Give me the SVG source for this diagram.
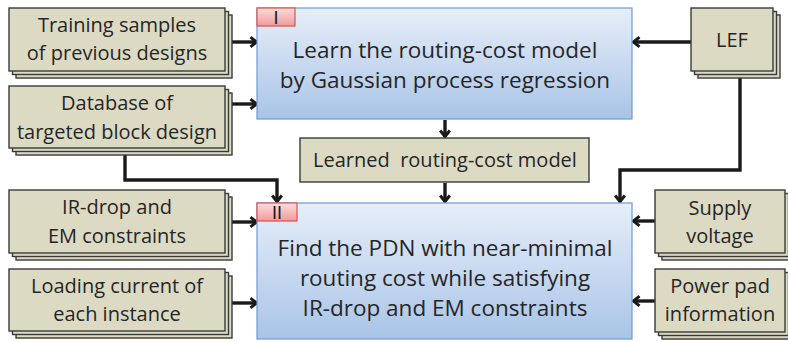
<svg xmlns="http://www.w3.org/2000/svg" width="788" height="342" viewBox="0 0 788 342">
  <style>
    .card { fill: #dddac4; stroke: #3a3a3a; stroke-width: 1.4; }
    .step { fill: url(#blueFill); stroke: #6b9bd6; stroke-width: 1.2; }
    .tab { fill: url(#redFill); stroke: #d9534f; stroke-width: 1.2; }
    .txt { font-family: "Open Sans", "Liberation Sans", sans-serif; font-size: 20px; fill: #262626; text-anchor: middle; }
    .big { font-size: 22.5px; }
    .num { font-family: "Liberation Sans", sans-serif; font-size: 18px; fill: #1a1a1a; text-anchor: middle; }
    .wire { fill: none; stroke: #1a1a1a; stroke-width: 3.4; stroke-linejoin: miter; marker-end: url(#head); }
  </style>
  <defs>
    <linearGradient id="blueFill" x1="0" y1="0" x2="0" y2="1">
      <stop offset="0" stop-color="#e7eef9"/>
      <stop offset="1" stop-color="#a9c4e7"/>
    </linearGradient>
    <linearGradient id="redFill" x1="0" y1="0" x2="0" y2="1">
      <stop offset="0" stop-color="#fbdcdc"/>
      <stop offset="1" stop-color="#f29a9a"/>
    </linearGradient>
    <marker id="head" viewBox="0 0 12 12" refX="9.5" refY="6" markerWidth="12" markerHeight="12" markerUnits="userSpaceOnUse" orient="auto">
      <path d="M3,1.2 L9,6 L3,10.8" fill="none" stroke="#1a1a1a" stroke-width="3"/>
    </marker>
  </defs>

  <!-- connectors -->
  <g id="connectors">
    <path class="wire" d="M232,42 H257"/>
    <path class="wire" d="M232,104 H257"/>
    <path class="wire" d="M691,42 H633"/>
    <path class="wire" d="M445,120 V137"/>
    <path class="wire" d="M445,183 V202"/>
    <path class="wire" d="M125,155 V180 H277 V202"/>
    <path class="wire" d="M740,78 V170 H620 V202"/>
    <path class="wire" d="M232,222 H257"/>
    <path class="wire" d="M232,303 H257"/>
    <path class="wire" d="M655,221 H633"/>
    <path class="wire" d="M655,301 H633"/>
  </g>

  <!-- inputs on the left -->
  <g id="training-samples">
    <rect class="card" x="16" y="15" width="216" height="63"/>
    <rect class="card" x="12.5" y="11.5" width="216" height="63"/>
    <rect class="card" x="9" y="8" width="216" height="63"/>
    <text class="txt" x="117" y="32">Training samples</text>
    <text class="txt" x="117" y="60">of previous designs</text>
  </g>
  <g id="database">
    <rect class="card" x="16" y="93" width="216" height="62"/>
    <rect class="card" x="12.5" y="89.5" width="216" height="62"/>
    <rect class="card" x="9" y="86" width="216" height="62"/>
    <text class="txt" x="117" y="110">Database of</text>
    <text class="txt" x="117" y="139">targeted block design</text>
  </g>
  <g id="ir-drop">
    <rect class="card" x="16" y="197" width="216" height="63"/>
    <rect class="card" x="12.5" y="193.5" width="216" height="63"/>
    <rect class="card" x="9" y="190" width="216" height="63"/>
    <text class="txt" x="117" y="214">IR-drop and</text>
    <text class="txt" x="117" y="243">EM constraints</text>
  </g>
  <g id="loading-current">
    <rect class="card" x="16" y="276" width="216" height="62"/>
    <rect class="card" x="12.5" y="272.5" width="216" height="62"/>
    <rect class="card" x="9" y="269" width="216" height="62"/>
    <text class="txt" x="117" y="293">Loading current of</text>
    <text class="txt" x="117" y="321">each instance</text>
  </g>

  <!-- inputs on the right -->
  <g id="lef">
    <rect class="card" x="698" y="15" width="82" height="63"/>
    <rect class="card" x="694.5" y="11.5" width="82" height="63"/>
    <rect class="card" x="691" y="8" width="82" height="63"/>
    <text class="txt" x="732" y="47">LEF</text>
  </g>
  <g id="supply-voltage">
    <rect class="card" x="662" y="197" width="130" height="63"/>
    <rect class="card" x="658.5" y="193.5" width="130" height="63"/>
    <rect class="card" x="655" y="190" width="130" height="63"/>
    <text class="txt" x="720" y="215">Supply</text>
    <text class="txt" x="720" y="243">voltage</text>
  </g>
  <g id="power-pad">
    <rect class="card" x="662" y="276" width="130" height="63"/>
    <rect class="card" x="658.5" y="272.5" width="130" height="63"/>
    <rect class="card" x="655" y="269" width="130" height="63"/>
    <text class="txt" x="720" y="293">Power pad</text>
    <text class="txt" x="720" y="321">information</text>
  </g>

  <!-- stage I -->
  <g id="stage-learn">
    <rect class="step" x="257" y="8" width="375" height="111"/>
    <rect class="tab" x="257" y="8" width="38" height="18"/>
    <text class="num" x="276" y="24">I</text>
    <text class="txt big" x="445" y="58">Learn the routing-cost model</text>
    <text class="txt big" x="445" y="88">by Gaussian process regression</text>
  </g>

  <!-- learned model -->
  <g id="learned-model">
    <rect class="card" x="300" y="138" width="289" height="44"/>
    <text class="txt" x="445" y="167" xml:space="preserve">Learned  routing-cost model</text>
  </g>

  <!-- stage II -->
  <g id="stage-find">
    <rect class="step" x="257" y="203" width="375" height="136"/>
    <rect class="tab" x="257" y="203" width="40" height="18"/>
    <text class="num" x="277" y="219">II</text>
    <text class="txt big" x="445" y="256">Find the PDN with near-minimal</text>
    <text class="txt big" x="445" y="286">routing cost while satisfying</text>
    <text class="txt big" x="445" y="316">IR-drop and EM constraints</text>
  </g>
</svg>
